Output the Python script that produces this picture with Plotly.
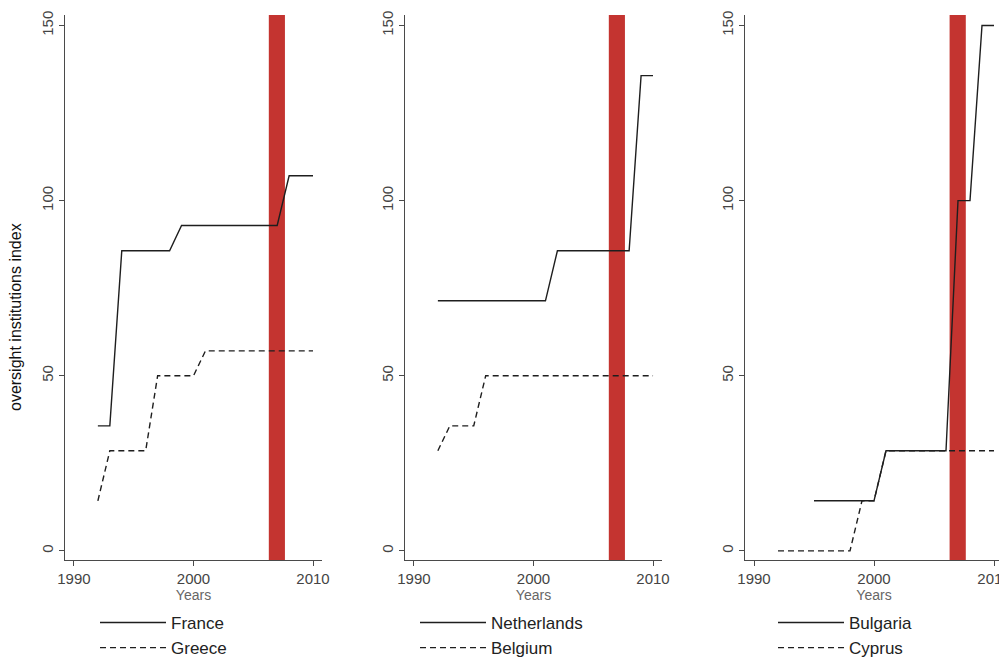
import plotly.graph_objects as go

years = list(range(1992, 2011))
years_bulgaria = list(range(1995, 2011))

france = [35.7, 35.7] + [85.7] * 5 + [92.9] * 9 + [107.1] * 3
greece = [14.3] + [28.6] * 4 + [50.0] * 4 + [57.1] * 10
netherlands = [71.4] * 10 + [85.7] * 7 + [135.7] * 2
belgium = [28.6] + [35.7] * 3 + [50.0] * 15
bulgaria = [14.3] * 6 + [28.6] * 6 + [100.0] * 2 + [150.0] * 2
cyprus = [0.0] * 7 + [14.3] * 2 + [28.6] * 10

event_start = 2006.3
event_end = 2007.65

x_ticks = [1990, 2000, 2010]
y_ticks = [0, 50, 100, 150]

W, H = 1007, 662
OFF = 8  # page body margin
FONT = "Liberation Sans, Arial, sans-serif"
AXC = "#4a4a4a"
LINEC = "#1e1e1e"
RED = "#c43430"

panels = [
    ("France", france, years, "Greece", greece, years),
    ("Netherlands", netherlands, years, "Belgium", belgium, years),
    ("Bulgaria", bulgaria, years_bulgaria, "Cyprus", cyprus, years),
]
x_px = [(65, 322), (405, 662), (745, 1003)]
legend_x_px = [95, 415, 773]


def px(v):
    return (v - OFF) / W


def py(v):
    return 1 - (v - OFF) / H


fig = go.Figure()
y_dom = [py(560), py(15)]

layout = dict(
    width=W, height=H,
    margin=dict(l=0, r=0, t=0, b=0, autoexpand=False),
    paper_bgcolor="white", plot_bgcolor="white",
    font=dict(family=FONT, color="#333"),
    showlegend=True,
)
shapes = []
for i, (n1, v1, y1, n2, v2, y2) in enumerate(panels):
    suf = "" if i == 0 else str(i + 1)
    xa, ya = "x" + suf, "y" + suf
    lg = "legend" + suf
    # dashed first so solid lies on top
    fig.add_trace(go.Scatter(x=y2, y=v2, mode="lines", name=n2, xaxis=xa, yaxis=ya,
                             legend=lg, legendgroup=n2, legendrank=2,
                             line=dict(color=LINEC, width=1.4, dash="6px,4px")))
    fig.add_trace(go.Scatter(x=y1, y=v1, mode="lines", name=n1, xaxis=xa, yaxis=ya,
                             legend=lg, legendgroup=n1, legendrank=1,
                             line=dict(color=LINEC, width=1.4)))
    x0, x1 = x_px[i]
    layout["xaxis" + suf] = dict(
        domain=[px(x0), px(x1)], range=[1989.25, 2010.75], anchor=ya, automargin=False,
        tickvals=x_ticks, ticks="outside", ticklen=5, tickcolor=AXC, tickwidth=1.2,
        showline=True, linecolor=AXC, linewidth=1.4, showgrid=False, zeroline=False,
        tickfont=dict(size=15, color="#444", family=FONT),
        title=dict(text="Years", font=dict(size=14, color="#666", family=FONT), standoff=0),
    )
    layout["yaxis" + suf] = dict(
        domain=y_dom, range=[-2.6, 153], anchor=xa, automargin=False,
        tickvals=y_ticks, ticks="outside", ticklen=5, tickcolor=AXC, tickwidth=1.2,
        showline=True, linecolor=AXC, linewidth=1.4, showgrid=False, zeroline=False,
        tickangle=-90, tickfont=dict(size=15, color="#444", family=FONT),
    )
    layout[lg] = dict(
        x=px(legend_x_px[i]), xanchor="left", y=py(605), yanchor="top",
        orientation="v", traceorder="normal", tracegroupgap=16,
        font=dict(size=17, color="#222", family=FONT), bgcolor="rgba(0,0,0,0)",
        itemwidth=66,
    )
    shapes.append(dict(type="rect", xref=xa, yref=ya + " domain", x0=event_start, x1=event_end,
                       y0=0, y1=1, fillcolor=RED, line=dict(width=0), layer="below"))

layout["shapes"] = shapes
layout["annotations"] = [dict(text="oversight institutions index", textangle=-90,
                              xref="paper", yref="paper", x=px(16), y=py(317),
                              xanchor="center", yanchor="middle",
                              showarrow=False, font=dict(size=16, color="#111", family=FONT))]
fig.update_layout(**layout)
fig.write_html("out.html")
